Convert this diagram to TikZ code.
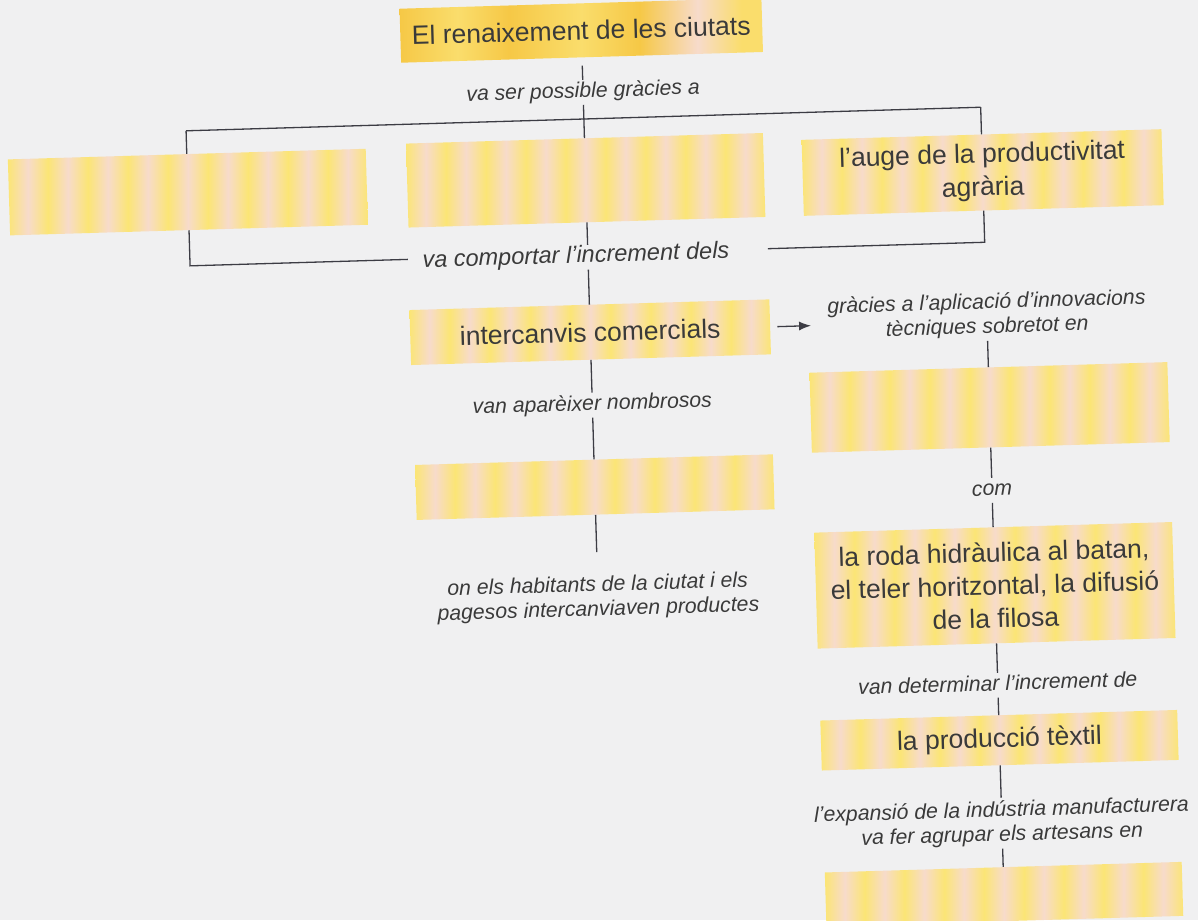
\documentclass[tikz,border=0pt]{standalone}
\usepackage{fontspec}
\setmainfont{Liberation Sans}
\usetikzlibrary{arrows.meta}
\definecolor{bg}{HTML}{F0F0F1}
\definecolor{yl}{HTML}{FBE575}
\definecolor{pk}{HTML}{F7DBCB}
\definecolor{yo}{HTML}{F6C846}
\definecolor{yt}{HTML}{FADD6C}
\definecolor{ink}{HTML}{3A3A3A}
\definecolor{ln}{HTML}{3C3C44}
\pgfdeclarehorizontalshading{stripes}{100bp}{color(0bp)=(yl); color(25bp)=(yl);
 color(27.78bp)=(pk); color(30.56bp)=(yl); color(33.33bp)=(pk); color(36.11bp)=(yl);
 color(38.89bp)=(pk); color(41.67bp)=(yl); color(44.44bp)=(pk); color(47.22bp)=(yl);
 color(50bp)=(pk); color(52.78bp)=(yl); color(55.56bp)=(pk); color(58.33bp)=(yl);
 color(61.11bp)=(pk); color(63.89bp)=(yl); color(66.67bp)=(pk); color(69.44bp)=(yl);
 color(72.22bp)=(pk); color(75bp)=(yl); color(100bp)=(yl)}
\pgfdeclarehorizontalshading{topsh}{100bp}{color(0bp)=(yo); color(25bp)=(yo);
 color(33bp)=(yt); color(40bp)=(yo); color(50bp)=(yt); color(58bp)=(yo);
 color(66bp)=(pk); color(72bp)=(yt); color(75bp)=(yt); color(100bp)=(yt)}
\tikzset{
  box/.style={rectangle, shading=stripes, text=ink, align=center, inner sep=0pt,
    font=\fontsize{26.5}{33}\selectfont},
  lbl/.style={text=ink, align=center, inner sep=2pt, text height=15.5pt, text depth=5pt,
    font=\fontsize{21.2}{23.5}\selectfont\itshape},
  lblm/.style={text=ink, align=center, inner sep=3pt,
    font=\fontsize{21.2}{24.5}\selectfont\itshape},
  conn/.style={draw=ln, line width=1.3pt}
}
\begin{document}
\begin{tikzpicture}[x=1pt,y=-1pt]
\useasboundingbox (0,0) rectangle (1198,920);
\fill[bg] (0,0) rectangle (1198,920);
\begin{scope}[rotate around={1.7:(599,460)}, transform shape]
% middle column
\node[box, shading=topsh, minimum width=362pt, minimum height=54pt] (top) at (594,30) {El renaixement de les ciutats};
\node[lbl] (l1) at (594,92) {va ser possible gràcies a};
\node[box, minimum width=358pt, minimum height=76pt] (b1) at (196,180) {};
\node[box, minimum width=357pt, minimum height=84pt] (b2) at (594,180) {};
\node[box, minimum width=360pt, minimum height=76pt] (b3) at (991,184) {l’auge de la productivitat\\agrària};
\coordinate (bt) at (594,118.7);
\coordinate (bl) at (196,118.7);
\coordinate (br) at (991,118.7);
\coordinate (dl) at (196,253.8);
\coordinate (dl2) at (414,253.8);
\coordinate (dr) at (991,253.8);
\coordinate (dr2) at (774,253.8);
\node[lbl, font=\fontsize{23.5}{26}\selectfont\itshape] (l2) at (582,257) {va comportar l’increment dels};
\node[box, minimum width=360pt, minimum height=55pt] (inter) at (594,332) {intercanvis comercials};
\node[lbl] (l3) at (594,405) {van aparèixer nombrosos};
\node[box, minimum width=358pt, minimum height=55pt] (b5) at (594,487) {};
\coordinate (e5) at (594,552);
\node[lblm] (l4) at (594,598) {on els habitants de la ciutat i els\\pagesos intercanviaven productes};
% right column
\coordinate (ae) at (815,332);
\node[lblm] (l5) at (991,327) {gràcies a l’aplicació d’innovacions\\tècniques sobretot en};
\node[box, minimum width=358pt, minimum height=80pt] (b6) at (991,419) {};
\node[lbl] (l6) at (991,502) {com};
\node[box, minimum width=358pt, minimum height=116pt] (b7) at (991,597) {la roda hidràulica al batan,\\el teler horitzontal, la difusió\\de la filosa};
\node[lbl] (l7) at (991,697) {van determinar l’increment de};
\node[box, minimum width=357pt, minimum height=50pt] (b8) at (991,752) {la producció tèxtil};
\node[lblm] (l8) at (991,835) {l’expansió de la indústria manufacturera\\va fer agrupar els artesans en};
\node[box, minimum width=357pt, minimum height=54pt] (b9) at (991,906) {};
% connectors
\draw[conn, shorten <=8pt] (top) -- (l1);
\draw[conn] (l1) -- (bt);
\draw[conn] (bl) -- (br);
\draw[conn] (bl) -- (b1);
\draw[conn] (bt) -- (b2);
\draw[conn] (br) -- (b3);
\draw[conn] (b1) -- (dl) -- (dl2);
\draw[conn] (b3) -- (dr) -- (dr2);
\draw[conn] (b2) -- (b2 |- l2.north);
\draw[conn] (inter |- l2.south) -- (inter);
\draw[conn] (inter) -- (l3);
\draw[conn] (l3) -- (b5);
\draw[conn] (b5) -- (e5);
\draw[conn, shorten <=7pt, -{Latex[length=12pt,width=9pt]}] (inter) -- (ae);
\draw[conn] (l5) -- (b6);
\draw[conn] (b6) -- (l6);
\draw[conn] (l6) -- (b7);
\draw[conn] (b7) -- (l7);
\draw[conn] (l7) -- (b8);
\draw[conn] (b8) -- (l8);
\draw[conn] (l8) -- (b9);
\end{scope}
\end{tikzpicture}
\end{document}
